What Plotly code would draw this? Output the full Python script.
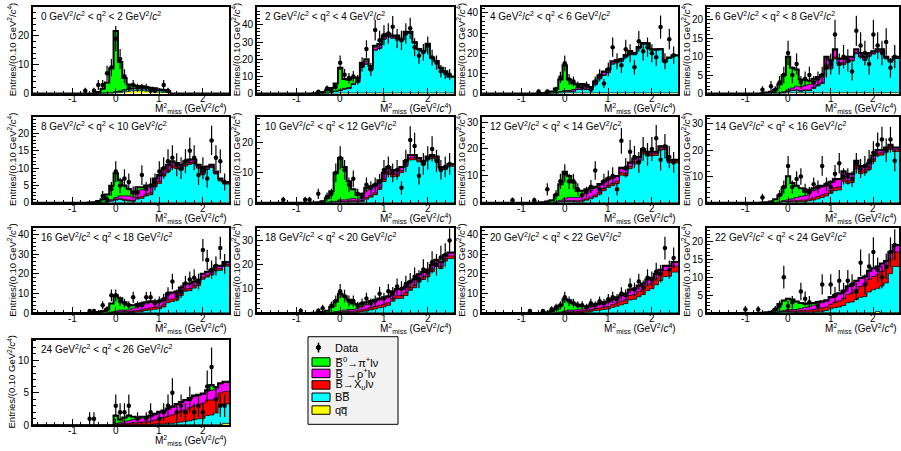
import numpy as np
import plotly.graph_objects as go

FONT = "Liberation Sans, Arial, sans-serif"
W, H = 901, 451

# bin centres of the M^2_miss histograms (GeV^2/c^4), bin width 0.1
BIN_CENTERS = [-0.6, -0.5, -0.4, -0.3, -0.2, -0.1, 0.0, 0.1, 0.2, 0.3, 0.4, 0.5, 0.6, 0.7, 0.8, 0.9,
               1.0, 1.1, 1.2, 1.3, 1.4, 1.5, 1.6, 1.7, 1.8, 1.9, 2.0, 2.1, 2.2, 2.3, 2.4, 2.5]
BIN_WIDTH = 0.1

X_TICKS = [-1, 0, 1, 2]
X_TICK_TEXT = ["-1", "0", "1", "2"]

Q2_LOW = [0, 2, 4, 6, 8, 10, 12, 14, 16, 18, 20, 22, 24]
Y_MAX = [30, 50.5, 43, 23.5, 24.7, 28.6, 31.8, 32.5, 43, 35, 43, 23.6, 13.2]
Y_TICKS = [[0, 10, 20], [0, 10, 20, 30, 40], [0, 10, 20, 30, 40], [0, 5, 10, 15, 20], [0, 5, 10, 15, 20],
           [0, 10, 20], [0, 10, 20, 30], [0, 10, 20, 30], [0, 10, 20, 30, 40], [0, 10, 20, 30],
           [0, 10, 20, 30, 40], [0, 5, 10, 15, 20], [0, 5, 10]]

# ---- 0 < q2 < 2
pi_q0 = [0,0,0.5,1.5,3.5,8.5,21,10,4,1.5,1,0.7,0.5,0.4,0.3,0.3,0.2,0.2,0.1,0,0,0,0,0,0,0,0,0,0,0,0,0]
rho_q0 = [0,0,0,0,0,0,0.1,0.1,0.2,0.2,0.2,0.2,0.2,0.2,0.2,0.2,0.1,0.1,0.1,0,0,0,0,0,0,0,0,0,0,0,0,0]
xu_q0 = [0,0,0,0,0,0,0,0,0,0,0,0,0,0,0,0,0,0,0,0,0,0,0,0,0,0,0,0,0,0,0,0]
bb_q0 = [0,0,0,0.2,0.3,0.3,0.4,0.5,0.6,0.6,0.7,0.7,0.8,0.8,0.7,0.7,0.6,0.5,0.4,0,0,0,0,0,0,0,0,0,0,0,0,0]
qq_q0 = [0,0,0,0,0,0,0.2,0.3,0.6,0.8,1,1,1,0.9,0.8,0.6,0.5,0.4,0.3,0,0,0,0,0,0,0,0,0,0,0,0,0]
dx_q0 = [-0.7,-0.5,-0.4,-0.3,-0.2,-0.1,0,0.1,0.2,0.3,0.4,0.5,0.6,0.7,0.8,0.9,1.1,1.2]
dy_q0 = [1,1,3,3,7,9,19,12,6,2,3,2,2,2,1,1,3,1]

# ---- 2 < q2 < 4
pi_q2 = [0.1,0.3,0.7,1.5,2.5,4.5,13,5.5,4.5,3,2,1.5,1.2,1,0.8,0.6,0.5,0.4,0.3,0.3,0.2,0.2,0.2,0.1,0.1,0.1,0.1,0.1,0,0,0,0]
rho_q2 = [0,0,0,0,0,0.2,0.3,0.4,0.5,0.7,0.8,1,1.5,1.2,1.5,1.8,1.5,1.2,1,0.8,0.7,0.6,0.5,0.4,0.3,0.3,0.3,0.2,0.2,0.1,0.1,0.1]
xu_q2 = [0,0,0,0,0,0,0,0,0,0,0,0.2,0.2,0.2,0.2,0.2,0.2,0.2,0.2,0.2,0.2,0.2,0.2,0.2,0.2,0.2,0.2,0.2,0.2,0.2,0.2,0.2]
bb_q2 = [0,0.1,0.2,0.4,0.8,1.2,1.5,2.3,2.7,5,6.2,15,16.8,13.3,25,26,31.3,32.7,32,32.3,30.5,34.7,34.8,29,25.1,24.1,28.1,20.2,18.3,14.4,12.4,9.4]
qq_q2 = [0,0,0,0,0,0,0.3,0.3,0.3,0.3,0.3,0.3,0.3,0.3,0.3,0.3,0.3,0.3,0.3,0.3,0.3,0.3,0.3,0.3,0.3,0.3,0.3,0.3,0.3,0.3,0.3,0.3]
dx_q2 = [-0.5,-0.3,-0.2,-0.1,0,0.1,0.2,0.3,0.4,0.5,0.6,0.7,0.8,0.9,1.0,1.1,1.2,1.3,1.4,1.5,1.6,1.7,1.8,1.9,2.0,2.1,2.2,2.3,2.4,2.5]
dy_q2 = [1,3,2,4,18,11,9,10,8,17,26,14,37,31,34,35,39,32,31,35,38,27,22,24,28,21,18,13,12,11]

# ---- 4 < q2 < 6
pi_q4 = [0.1,0.2,0.4,0.8,2,6,12.5,5.5,3,1.5,1,0.8,0.5,0.4,0.3,0.3,0.2,0.2,0.2,0.1,0.1,0.1,0.1,0.1,0,0,0,0,0,0,0,0]
rho_q4 = [0,0,0,0,0.1,0.2,0.3,0.5,0.8,1,1.2,1.2,0.8,1,1.2,1.5,1.2,1,0.8,0.8,0.7,0.6,0.6,0.5,0.4,0.4,0.3,0.3,0.2,0.2,0.2,0.1]
xu_q4 = [0,0,0,0,0,0,0,0,0,0,0.2,0.2,0.2,0.2,0.2,0.2,0.2,0.2,0.2,0.2,0.2,0.2,0.2,0.2,0.2,0.2,0.2,0.2,0.2,0.2,0.2,0.2]
bb_q4 = [0.1,0.1,0.1,0.2,0.4,0.8,0.9,0.7,0.9,1.7,2,1.7,1.4,4.1,7,8.7,10.1,14.3,15.1,15.7,17.8,19.9,18.9,22,24.2,24.1,21.2,21.2,21.4,15.3,17.2,18.4]
qq_q4 = [0,0,0,0,0,0,0.3,0.3,0.3,0.3,0.3,0.3,0.3,0.3,0.3,0.3,0.3,0.3,0.3,0.3,0.3,0.3,0.3,0.3,0.3,0.3,0.3,0.3,0.3,0.3,0.3,0.3]
dx_q4 = [-0.6,-0.4,-0.2,-0.1,0,0.1,0.2,0.3,0.4,0.5,0.6,0.7,0.8,0.9,1.0,1.1,1.2,1.3,1.4,1.5,1.6,1.7,1.8,1.9,2.0,2.1,2.2,2.3,2.4,2.5]
dy_q4 = [1,1,2,8,15,7,6,4,3,4,2,6,9,5,12,23,16,14,22,20,13,26,21,23,20,18,33,16,27,19]

# ---- 6 < q2 < 8
pi_q6 = [0,0.1,0.3,0.8,2.2,4.5,9,5.5,4.5,2,1.5,1,0.8,0.6,0.5,0.4,0.3,0.3,0.2,0.2,0.2,0.1,0.1,0.1,0.1,0,0,0,0,0,0,0]
rho_q6 = [0,0,0,0,0.1,0.2,0.4,0.6,1,1,1.2,1.5,1.5,1.5,1.5,1.8,1.6,1.8,1.2,1,1,0.8,0.8,0.7,0.6,0.6,0.5,0.5,0.4,0.4,0.3,0.3]
xu_q6 = [0,0,0,0,0,0,0,0.1,0.1,0.2,0.2,0.2,0.3,0.3,0.3,0.4,0.4,0.5,0.4,0.4,0.4,0.3,0.3,0.3,0.3,0.3,0.3,0.2,0.2,0.2,0.2,0.2]
bb_q6 = [0.1,0.2,0.2,0.2,0.2,0.3,0.4,0.6,0.7,0.4,0.6,0.6,1.2,1.9,2.5,7.2,6.5,9.2,7.5,7.7,8.2,8.6,10.6,9.7,8.8,9.9,10.5,11.1,11.2,9.2,8.3,9.3]
qq_q6 = [0,0,0,0,0,0,0.2,0.2,0.2,0.2,0.2,0.2,0.2,0.2,0.2,0.2,0.2,0.2,0.2,0.2,0.2,0.2,0.2,0.2,0.2,0.2,0.2,0.2,0.2,0.2,0.2,0.2]
dx_q6 = [-0.6,-0.4,-0.3,-0.2,-0.1,0,0.1,0.2,0.3,0.4,0.5,0.6,0.7,0.8,0.9,1.0,1.1,1.2,1.3,1.4,1.5,1.6,1.7,1.8,1.9,2.0,2.1,2.2,2.3,2.4,2.5]
dy_q6 = [1,2,1,3,5,11,5,8,3,4,5,3,4,5,7,8,16,8,10,9,6,17,13,11,8,16,13,11,14,7,10]

# ---- 8 < q2 < 10
pi_q8 = [0,0.1,0.4,0.8,2,4,7,4.5,3,2,1,1,0.7,0.5,0.4,0.3,0.3,0.2,0.2,0.1,0.1,0.1,0.1,0.1,0,0,0,0,0,0,0,0]
rho_q8 = [0,0,0,0,0.2,0.3,0.5,0.8,1,1.2,1,2,2,2,1.8,1.5,1.5,1.5,1.3,1.2,1,1,0.8,0.8,0.7,0.6,0.5,0.5,0.5,0.4,0.4,0.3]
xu_q8 = [0,0,0,0,0,0.1,0.2,0.2,0.3,0.3,0.3,0.4,0.5,0.5,0.5,0.6,0.6,0.6,0.6,0.6,0.5,0.5,0.5,0.5,0.4,0.4,0.4,0.4,0.3,0.3,0.3,0.3]
bb_q8 = [0.1,0.1,0.1,0.2,0.2,0.5,0.7,0.9,0.6,0.4,0.3,1.0,1.2,1.9,2.2,4.5,5.5,7.6,8.8,10,9.8,9.3,10.5,11,11.3,9.9,8,9.5,10.1,8.2,6.2,5.3]
qq_q8 = [0,0,0,0,0,0,0.1,0.1,0.1,0.1,0.1,0.1,0.1,0.1,0.1,0.1,0.1,0.1,0.1,0.1,0.1,0.1,0.1,0.1,0.1,0.1,0.1,0.1,0.1,0.1,0.1,0.1]
dx_q8 = [-0.3,-0.2,-0.1,0,0.1,0.2,0.3,0.4,0.5,0.6,0.7,0.8,0.9,1.0,1.1,1.2,1.3,1.4,1.5,1.6,1.7,1.8,1.9,2.0,2.1,2.2,2.3,2.4,2.5]
dy_q8 = [2,1,4,9,5,7,6,3,3,8,4,5,6,9,10,12,13,11,10,12,15,13,8,10,7,18,13,12,6]

# ---- 10 < q2 < 12
pi_q10 = [0,0.1,0.4,1.3,3.5,9.5,14,11,6,3,1.5,1,0.8,0.5,0.4,0.3,0.3,0.2,0.2,0.1,0.1,0.1,0.1,0.1,0,0,0,0,0,0,0,0]
rho_q10 = [0,0,0,0,0.1,0.2,0.4,0.5,0.6,0.8,0.6,1.2,2.5,2.5,2.3,2,1.8,1.5,1.3,1.2,1.1,1,0.9,0.8,0.7,0.6,0.6,0.5,0.5,0.4,0.4,0.3]
xu_q10 = [0,0,0,0,0,0.1,0.2,0.2,0.3,0.3,0.3,0.4,0.5,0.6,0.6,0.7,0.8,0.8,0.8,0.8,0.7,0.7,0.7,0.7,0.6,0.6,0.6,0.6,0.5,0.5,0.5,0.5]
bb_q10 = [0.1,0.1,0.1,0.2,0.3,0.2,0.3,0.2,0.2,0.3,0.2,0.3,1.1,1.8,2.6,4.4,7,9.4,8.6,8.8,10,12.1,14.2,14.3,13.6,12.7,14.2,14.8,14.4,11,11,12.1]
qq_q10 = [0,0,0,0,0,0,0.1,0.1,0.1,0.1,0.1,0.1,0.1,0.1,0.1,0.1,0.1,0.1,0.1,0.1,0.1,0.1,0.1,0.1,0.1,0.1,0.1,0.1,0.1,0.1,0.1,0.1]
dx_q10 = [-1.3,-0.8,-0.7,-0.5,-0.3,-0.2,-0.1,0,0.1,0.2,0.3,0.4,0.5,0.6,0.7,0.8,0.9,1.0,1.1,1.2,1.3,1.4,1.5,1.6,1.7,1.8,1.9,2.0,2.1,2.2,2.3,2.4,2.5]
dy_q10 = [1,1,1,3,2,3,10,15,11,6,8,3,2,6,5,6,7,11,12,10,11,5,14,21,19,9,13,15,18,14,11,12,13]

# ---- 12 < q2 < 14
pi_q12 = [0,0.1,0.3,0.8,2.5,6,10,8,5.5,2.5,1.5,1,0.8,0.6,0.5,0.4,0.3,0.3,0.2,0.2,0.1,0.1,0.1,0.1,0,0,0,0,0,0,0,0]
rho_q12 = [0,0,0,0,0.2,0.5,0.8,1.2,1.2,1.3,2,2.5,2.6,2.5,2.5,2.3,2.2,2,1.8,1.6,1.5,1.4,1.2,1.1,1,0.9,0.8,0.7,0.7,0.6,0.5,0.5]
xu_q12 = [0,0,0,0,0,0.1,0.2,0.3,0.3,0.4,0.4,0.5,0.6,0.7,0.8,0.8,0.8,0.8,0.9,0.9,0.9,0.8,0.8,0.8,0.8,0.7,0.7,0.7,0.7,0.6,0.6,0.6]
bb_q12 = [0.1,0.1,0.2,0.2,0.2,0.3,0.4,0.4,0.4,0.2,0.5,0.9,1.4,2.1,3.1,4.4,5.6,6.3,7,10.2,9.9,12.6,14.3,14.9,18.1,17.3,17.4,17.5,19.5,19.7,14.8,14.8]
qq_q12 = [0,0,0,0,0,0,0.1,0.1,0.1,0.1,0.1,0.1,0.1,0.1,0.1,0.1,0.1,0.1,0.1,0.1,0.1,0.1,0.1,0.1,0.1,0.1,0.1,0.1,0.1,0.1,0.1,0.1]
dx_q12 = [-1.2,-0.7,-0.4,-0.2,-0.1,0,0.1,0.2,0.3,0.4,0.5,0.6,0.7,0.8,0.9,1.0,1.1,1.2,1.3,1.4,1.5,1.6,1.7,1.8,1.9,2.0,2.1,2.2,2.3,2.4,2.5]
dy_q12 = [1,1,5,3,8,11,8,8,5,3,4,6,12,5,8,9,10,5,23,13,19,17,15,20,18,20,24,16,21,17,15]

# ---- 14 < q2 < 16
pi_q14 = [0,0.1,0.4,1.2,2.5,5,9,6,4.5,3,1.5,1,0.8,0.6,0.5,0.4,0.3,0.3,0.2,0.2,0.1,0.1,0.1,0.1,0,0,0,0,0,0,0,0]
rho_q14 = [0,0,0,0,0.2,0.4,0.6,0.8,1.2,1.5,1.7,2.5,2.8,3,3,3,3,3,2.8,2.6,2.4,2.2,2,1.8,1.6,1.5,1.4,1.2,1.1,1,0.9,0.8]
xu_q14 = [0,0,0,0,0,0.1,0.2,0.3,0.4,0.5,0.6,0.7,0.8,0.9,1,1,1.1,1.1,1.1,1.1,1.1,1,1,1,1,0.9,0.9,0.9,0.8,0.8,0.8,0.7]
bb_q14 = [0.1,0.1,0.1,0.2,0.2,0.4,0.2,0.3,0.3,0.4,0.3,0.7,1,1.4,1.9,2.5,3.5,4.5,4.8,8,7.3,7.6,12.8,11,11.3,12.5,15.6,17.8,18,19.1,20.2,19.4]
qq_q14 = [0,0,0,0,0,0,0.1,0.1,0.1,0.1,0.1,0.1,0.1,0.1,0.1,0.1,0.1,0.1,0.1,0.1,0.1,0.1,0.1,0.1,0.1,0.1,0.1,0.1,0.1,0.1,0.1,0.1]
dx_q14 = [-0.6,-0.2,-0.1,0,0.1,0.2,0.3,0.4,0.5,0.6,0.7,0.8,0.9,1.0,1.1,1.2,1.3,1.4,1.5,1.6,1.7,1.8,1.9,2.0,2.1,2.2,2.3,2.4,2.5]
dy_q14 = [2,3,6,14,6,9,10,5,4,7,6,14,7,6,11,15,10,10,9,15,13,14,16,19,22,24,20,24,16]

# ---- 16 < q2 < 18
pi_q16 = [0,0.1,0.3,0.8,1.8,4.3,8,6,4,2.5,1.5,1.2,1,0.8,0.6,0.5,0.4,0.3,0.3,0.2,0.2,0.1,0.1,0.1,0,0,0,0,0,0,0,0]
rho_q16 = [0,0,0,0,0,0.3,0.5,0.8,0.6,0.8,1.5,2,2.3,2.5,2.8,2.6,2.4,2.5,3.2,3.2,3,2.8,2.6,2.4,2.2,2,1.8,1.7,1.6,1.5,1.4,1.3]
xu_q16 = [0,0,0,0,0,0.1,0.2,0.3,0.4,0.5,0.6,0.7,0.8,0.9,1,1,1,1.1,1.2,1.2,1.2,1.2,1.2,1.1,1.1,1,1,1,1,1,0.9,0.9]
bb_q16 = [0.1,0.1,0.2,0.2,0.1,0.2,0.2,0.3,0.4,0.2,0.3,0.5,0.8,1.2,1.5,1.8,2.1,3,5.2,5.8,6.5,8.8,11,11.3,12.6,13.9,17.1,18.2,19.3,21.4,21.6,23.7]
qq_q16 = [0,0,0,0,0,0,0.1,0.1,0.1,0.1,0.1,0.1,0.1,0.1,0.1,0.1,0.1,0.1,0.1,0.1,0.1,0.1,0.1,0.1,0.1,0.1,0.1,0.1,0.1,0.1,0.1,0.1]
dx_q16 = [-0.6,-0.5,-0.3,-0.2,-0.1,0,0.1,0.2,0.3,0.4,0.5,0.6,0.7,0.8,0.9,1.0,1.1,1.2,1.3,1.4,1.5,1.6,1.7,1.8,1.9,2.0,2.1,2.2,2.3,2.4,2.5]
dy_q16 = [1,1,4,2,9,9,6,5,4,8,4,4,8,8,5,6,7,10,16,9,11,15,17,18,16,32,27,22,24,33,25]

# ---- 18 < q2 < 20
pi_q18 = [0,0.1,0.3,0.8,2.2,4.3,7.2,5.8,4,2.5,1.5,1.2,1,0.8,0.6,0.5,0.4,0.3,0.3,0.2,0.2,0.1,0.1,0.1,0,0,0,0,0,0,0,0]
rho_q18 = [0,0,0,0,0.1,0.3,0.4,0.6,0.8,0.8,1,1.5,1.8,2,2.2,2.3,2.4,2.4,2.6,2.6,2.5,2.4,2.3,2.2,2.1,2,1.9,1.8,1.7,1.6,1.5,1.4]
xu_q18 = [0,0,0,0,0,0.1,0.2,0.3,0.4,0.5,0.6,0.7,0.8,0.9,1,1,1.1,1.1,1.2,1.2,1.2,1.2,1.2,1.2,1.1,1.1,1.1,1.1,1,1,1,1]
bb_q18 = [0.1,0.1,0.1,0.2,0.2,0.2,0.1,0.2,0.2,0.1,0.3,0.5,0.8,1.2,1.6,2.1,2.5,3.1,4.8,5.9,6,7.2,9.3,10.4,12.7,13.8,14.9,17,19.2,18.3,21.4,22.5]
qq_q18 = [0,0,0,0,0,0,0.1,0.1,0.1,0.1,0.1,0.1,0.1,0.1,0.1,0.1,0.1,0.1,0.1,0.1,0.1,0.1,0.1,0.1,0.1,0.1,0.1,0.1,0.1,0.1,0.1,0.1]
dx_q18 = [-0.9,-0.5,-0.4,-0.2,-0.1,0,0.1,0.2,0.3,0.4,0.5,0.6,0.7,0.8,0.9,1.0,1.1,1.2,1.3,1.4,1.5,1.6,1.7,1.8,1.9,2.0,2.1,2.2,2.3,2.4,2.5]
dy_q18 = [1,1,2,3,5,9,7,5,5,3,4,6,4,5,8,6,9,8,11,10,12,13,15,14,18,17,21,20,23,24,30]

# ---- 20 < q2 < 22
pi_q20 = [0,0.1,0.3,0.8,1.8,3.4,6,5,3.5,2.3,1.5,1.1,0.9,0.7,0.6,0.5,0.4,0.3,0.3,0.2,0.2,0.1,0.1,0.1,0,0,0,0,0,0,0,0]
rho_q20 = [0,0,0,0,0.1,0.3,0.5,0.8,0.8,0.9,1,1.1,1.3,1.5,1.8,2,2.2,2.4,2.6,2.8,3,3,3,3,2.9,2.8,2.7,2.6,2.5,2.4,2.3,2.2]
xu_q20 = [0,0,0,0,0,0.1,0.3,0.4,0.5,0.6,0.7,0.8,0.9,1,1.1,1.2,1.3,1.4,1.6,1.8,2,2.2,2.4,2.6,2.7,2.8,2.9,3,3,3,3,3]
bb_q20 = [0.1,0.1,0.1,0.2,0.1,0.1,0.1,0.2,0.1,0.1,0.2,0.4,0.8,1.2,1.4,1.7,2,2.8,3.4,4.1,4.7,6.6,6.9,8.2,9.3,11.3,12.3,14.3,16.4,18.5,18.6,20.7]
qq_q20 = [0,0,0,0,0,0,0.1,0.1,0.1,0.1,0.1,0.1,0.1,0.1,0.1,0.1,0.1,0.1,0.1,0.1,0.1,0.1,0.1,0.1,0.1,0.1,0.1,0.1,0.1,0.1,0.1,0.1]
dx_q20 = [-0.8,-0.5,-0.3,-0.2,-0.1,0,0.1,0.2,0.3,0.4,0.5,0.6,0.7,0.8,0.9,1.0,1.1,1.2,1.3,1.4,1.5,1.6,1.7,1.8,1.9,2.0,2.1,2.2,2.3,2.4,2.5]
dy_q20 = [1,1,2,3,4,8,6,5,4,4,3,5,4,6,5,7,8,7,10,9,14,12,16,13,18,17,21,20,33,22,28]

# ---- 22 < q2 < 24
pi_q22 = [0,0.1,0.3,0.8,2,2.8,3,2.8,2.2,1.5,1,0.8,0.6,0.5,0.4,0.3,0.3,0.2,0.2,0.1,0.1,0.1,0.1,0,0,0,0,0,0,0,0,0]
rho_q22 = [0,0,0,0,0.2,0.3,0.4,0.4,0.5,0.6,0.8,1,1.2,1.4,1.5,1.6,1.7,1.8,1.9,2,2.2,2.3,2.4,2.4,2.4,2.4,2.3,2.3,2.2,2.1,2,2]
xu_q22 = [0,0,0,0,0,0.1,0.2,0.3,0.3,0.4,0.5,0.6,0.7,0.8,0.9,1,1.3,1.5,1.7,2,2.3,2.5,2.7,3,3.2,3.5,3.7,3.8,4,4,4,4]
bb_q22 = [0.1,0.1,0.1,0.2,0.3,0.3,0.3,0.2,0.1,0.2,0.2,0.2,0.2,0.3,0.4,0.6,1.1,1.4,1.6,2,2.8,3,3.7,4.3,4.5,5.8,6.4,6.5,7.5,8.3,10.9,12.9]
qq_q22 = [0,0,0,0,0,0,0.1,0.1,0.1,0.1,0.1,0.1,0.1,0.1,0.1,0.1,0.1,0.1,0.1,0.1,0.1,0.1,0.1,0.1,0.1,0.1,0.1,0.4,0.1,0.1,0.1,0.1]
dx_q22 = [-1.0,-0.7,-0.3,-0.2,-0.1,0,0.1,0.3,0.4,0.5,0.7,0.8,1.0,1.1,1.2,1.3,1.4,1.5,1.6,1.7,1.8,1.9,2.0,2.1,2.2,2.3,2.4,2.5]
dy_q22 = [1,1,1,2,10,2,3,6,4,3,2,8,8,5,9,6,9,8,6,14,8,13,17,12,10,13,17,19]

# ---- 24 < q2 < 26
pi_q24 = [0,0,0,0,0,0,1.2,0.5,0.6,0.8,0.4,0.3,0.2,0.2,0.2,0.2,0.2,0.1,0.1,0.1,0.1,0.1,0.1,0.1,0.2,0.1,0.1,0.1,0.8,0.3,0.1,0.1]
rho_q24 = [0,0,0,0,0,0,0.1,0.2,0.3,0.4,0.5,0.5,0.6,0.6,0.7,0.8,0.9,1,1.1,1.2,1.3,1.3,1.4,1.4,1.4,1.4,1.4,1.4,1.5,1.5,1.4,1.4]
xu_q24 = [0,0,0,0,0,0,0.1,0.1,0.2,0.2,0.3,0.3,0.4,0.4,0.5,0.6,0.8,1,1.1,1.3,1.5,1.7,1.8,2,2.1,2.2,2.3,2.4,2.3,2.2,2,1.9]
bb_q24 = [0,0,0,0,0,0,0,0,0,0,0,0,0,0,0,0.1,0.1,0.1,0.2,0.2,0.3,0.4,0.5,0.6,0.8,0.9,1.0,1.4,1.5,1.8,2.9,3.0]
qq_q24 = [0,0,0,0,0,0,0.1,0.1,0.1,0.1,0.1,0.1,0.1,0.1,0.1,0.1,0.1,0.1,0.1,0.1,0.1,0.1,0.1,0.1,0.1,0.1,0.1,0.1,0.1,0.1,0.1,0.3]
dx_q24 = [-0.6,-0.5,0,0.1,0.2,0.3,0.5,0.7,0.8,1.0,1.1,1.2,1.3,1.4,1.5,1.6,1.7,1.8,1.9,2.0,2.1,2.2,2.3,2.4,2.5]
dy_q24 = [1,1,3,2,2,3,1,1,2,1,2,3,5,2,3,2,4,2,3,2,6,9,4,3,3]

PANELS = [
    (pi_q0, rho_q0, xu_q0, bb_q0, qq_q0, dx_q0, dy_q0),
    (pi_q2, rho_q2, xu_q2, bb_q2, qq_q2, dx_q2, dy_q2),
    (pi_q4, rho_q4, xu_q4, bb_q4, qq_q4, dx_q4, dy_q4),
    (pi_q6, rho_q6, xu_q6, bb_q6, qq_q6, dx_q6, dy_q6),
    (pi_q8, rho_q8, xu_q8, bb_q8, qq_q8, dx_q8, dy_q8),
    (pi_q10, rho_q10, xu_q10, bb_q10, qq_q10, dx_q10, dy_q10),
    (pi_q12, rho_q12, xu_q12, bb_q12, qq_q12, dx_q12, dy_q12),
    (pi_q14, rho_q14, xu_q14, bb_q14, qq_q14, dx_q14, dy_q14),
    (pi_q16, rho_q16, xu_q16, bb_q16, qq_q16, dx_q16, dy_q16),
    (pi_q18, rho_q18, xu_q18, bb_q18, qq_q18, dx_q18, dy_q18),
    (pi_q20, rho_q20, xu_q20, bb_q20, qq_q20, dx_q20, dy_q20),
    (pi_q22, rho_q22, xu_q22, bb_q22, qq_q22, dx_q22, dy_q22),
    (pi_q24, rho_q24, xu_q24, bb_q24, qq_q24, dx_q24, dy_q24),
]

COLORS = {"qq": "#ffff00", "bb": "#00ffff", "xu": "#ff0000", "rho": "#ff00ff", "pi": "#00ff00"}

# panel frames in pixels
COL_X = [(33, 229), (257, 454), (482, 678), (707, 899)]
ROW_Y = [(6, 94), (118, 205), (231, 317), (344, 431)]

X_RANGE = [-1.9, 2.6]

fig = go.Figure()
layout = dict(width=W, height=H, margin=dict(l=0, r=0, t=0, b=0),
              paper_bgcolor="white", plot_bgcolor="white", showlegend=False,
              font=dict(family=FONT, color="black"))
annotations = []
shapes = []

edges = [X_RANGE[0]] + [round(b - BIN_WIDTH / 2, 3) for b in BIN_CENTERS] + [X_RANGE[1]]

for i, (pi, rho, xu, bb, qq, dx, dy) in enumerate(PANELS):
    r, c = divmod(i, 4)
    x0, x1 = COL_X[c]
    y0, y1 = ROW_Y[r]
    sfx = "" if i == 0 else str(i + 1)
    xa, ya = "x" + sfx, "y" + sfx

    cum = np.zeros(len(BIN_CENTERS))
    stack = [(qq, COLORS["qq"]), (bb, COLORS["bb"]), (xu, COLORS["xu"]),
             (rho, COLORS["rho"]), (pi, COLORS["pi"])]
    for j, (vals, col) in enumerate(stack):
        cum = cum + np.asarray(vals, dtype=float)
        yy = [0.0] + list(cum) + [cum[-1]]
        fig.add_trace(go.Scatter(
            x=edges, y=yy, mode="lines",
            line=dict(shape="hv", color="black", width=2 if j == 4 else 0.8),
            fill="tozeroy" if j == 0 else "tonexty", fillcolor=col,
            xaxis=xa, yaxis=ya, hoverinfo="skip", showlegend=False))

    dyv = np.asarray(dy, dtype=float)
    fig.add_trace(go.Scatter(
        x=dx, y=dy, mode="markers",
        marker=dict(color="black", size=4.5, symbol="circle"),
        error_y=dict(type="data", array=np.sqrt(dyv), color="black", thickness=1.2, width=0),
        xaxis=xa, yaxis=ya, showlegend=False))

    ystep = Y_TICKS[i][1] - Y_TICKS[i][0]
    layout["xaxis" + sfx] = dict(
        domain=[x0 / W, x1 / W], range=X_RANGE, anchor=ya,
        showline=True, mirror=True, linecolor="black", linewidth=2,
        ticks="inside", ticklen=6, tickwidth=1, tickcolor="black",
        tickmode="array", tickvals=X_TICKS, showticklabels=False,
        showgrid=False, zeroline=False, fixedrange=True,
        minor=dict(ticks="inside", ticklen=3, tickcolor="black", dtick=0.2, tick0=0, showgrid=False))
    layout["yaxis" + sfx] = dict(
        domain=[1 - y1 / H, 1 - y0 / H], range=[0, Y_MAX[i]], anchor=xa,
        showline=True, mirror=True, linecolor="black", linewidth=2,
        ticks="inside", ticklen=6, tickwidth=1, tickcolor="black",
        tickmode="array", tickvals=Y_TICKS[i],
        tickfont=dict(size=10, family=FONT, color="black"),
        showgrid=False, zeroline=False, fixedrange=True,
        minor=dict(ticks="inside", ticklen=3, tickcolor="black", dtick=ystep / 5, tick0=0, showgrid=False))

    # x tick labels placed close under the frame (ROOT style)
    for tv, tt in zip(X_TICKS, X_TICK_TEXT):
        annotations.append(dict(
            x=tv, xref=xa, y=1 - (y1 + 5.5) / H, yref="paper",
            xanchor="center", yanchor="middle", showarrow=False, text=tt,
            font=dict(size=10, family=FONT, color="black")))

    lo, hi = Q2_LOW[i], Q2_LOW[i] + 2
    annotations.append(dict(
        x=(x0 + 6) / W, y=1 - (y0 + 9) / H, xref="paper", yref="paper",
        xanchor="left", yanchor="middle", showarrow=False,
        text=f"{lo} GeV<sup>2</sup>/<i>c</i><sup>2</sup> &lt; q<sup>2</sup> &lt; {hi} GeV<sup>2</sup>/<i>c</i><sup>2</sup>",
        font=dict(size=10, family=FONT, color="black")))
    annotations.append(dict(
        x=(x0 - 21) / W, y=1 - ((y0 + y1) / 2) / H, xref="paper", yref="paper",
        xanchor="center", yanchor="middle", showarrow=False, textangle=-90,
        text="Entries/(0.10 GeV<sup>2</sup>/<i>c</i><sup>4</sup>)",
        font=dict(size=9.5, family=FONT, color="black")))
    annotations.append(dict(
        x=x1 / W, y=1 - (y1 + 15.5) / H, xref="paper", yref="paper",
        xanchor="right", yanchor="middle", showarrow=False,
        text="M<sup>2</sup><sub>miss</sub> (GeV<sup>2</sup>/<i>c</i><sup>4</sup>)",
        font=dict(size=10, family=FONT, color="black")))

# ---- legend box (built by hand, ROOT style)
def px(x):
    return x / W

def py(y):
    return 1 - y / H

shapes.append(dict(type="rect", xref="paper", yref="paper", x0=px(308), x1=px(398), y0=py(430), y1=py(341),
                   fillcolor="#f2f2f2", line=dict(color="black", width=1), layer="above"))
LEGEND_LABELS = ["Data",
                 "B\u0305<sup>0</sup>→π<sup>+</sup>lν",
                 "B\u0305 →ρ<sup>+</sup>lν",
                 "B\u0305→X<sub>u</sub>lν",
                 "BB\u0305",
                 "qq\u0305"]
LEGEND_COLORS = [None, COLORS["pi"], COLORS["rho"], COLORS["xu"], COLORS["bb"], COLORS["qq"]]
LEGEND_Y = [352, 366.7, 378.3, 390, 402.5, 415.5]
for lab, col, yc in zip(LEGEND_LABELS, LEGEND_COLORS, LEGEND_Y):
    if col is None:
        shapes.append(dict(type="line", xref="paper", yref="paper", x0=px(318.5), x1=px(318.5),
                           y0=py(yc + 5), y1=py(yc - 5), line=dict(color="black", width=1.5), layer="above"))
        shapes.append(dict(type="circle", xref="paper", yref="paper", x0=px(316.3), x1=px(320.7),
                           y0=py(yc + 2.2), y1=py(yc - 2.2), fillcolor="black",
                           line=dict(color="black", width=1), layer="above"))
    else:
        shapes.append(dict(type="rect", xref="paper", yref="paper", x0=px(312), x1=px(330),
                           y0=py(yc + 4.3), y1=py(yc - 4.3), fillcolor=col,
                           line=dict(color="black", width=1), layer="above"))
    annotations.append(dict(x=px(333), y=py(yc), xref="paper", yref="paper", xanchor="left",
                            yanchor="middle", showarrow=False, text=lab,
                            font=dict(size=11, family=FONT, color="black")))

layout["annotations"] = annotations
layout["shapes"] = shapes
fig.update_layout(**layout)
fig.write_html("out.html")
